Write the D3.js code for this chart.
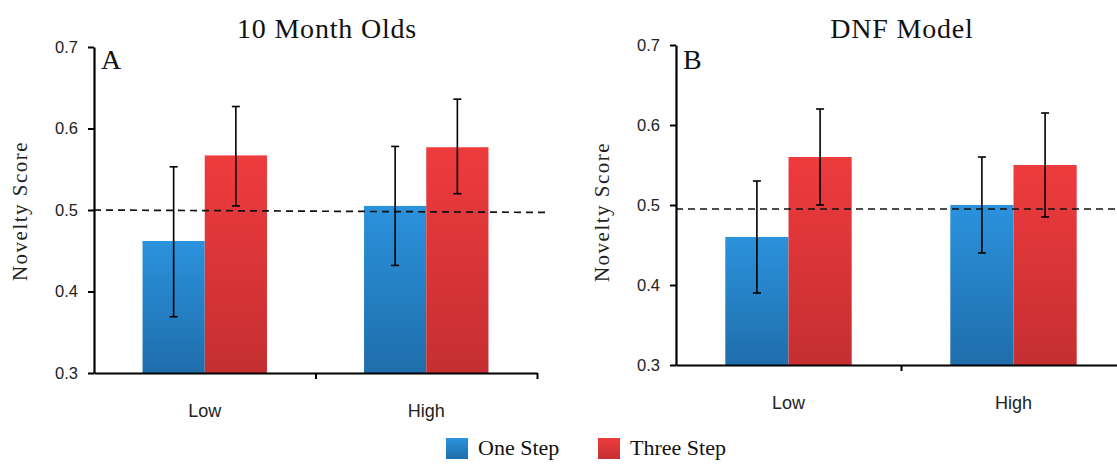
<!DOCTYPE html>
<html>
<head>
<meta charset="utf-8">
<script src="https://cdn.jsdelivr.net/npm/d3@7"></script>
<style>
  body { margin: 0; background: #fff; }
  svg { display: block; }
</style>
</head>
<body>
<div id="chart"></div>
<script>
// data
var categories = ["Low", "High"];
var seriesNames = ["One Step", "Three Step"];
var yTicks = [0.3, 0.4, 0.5, 0.6, 0.7];

var infantMeans = [[0.462, 0.567], [0.505, 0.577]];   // [category][series]
var infantLow   = [[0.369, 0.505], [0.432, 0.520]];
var infantHigh  = [[0.553, 0.627], [0.578, 0.636]];
var infantChance = [0.5, 0.497];

var modelMeans = [[0.46, 0.56], [0.50, 0.55]];
var modelLow   = [[0.39, 0.50], [0.44, 0.485]];
var modelHigh  = [[0.53, 0.62], [0.56, 0.615]];
var modelChance = [0.495, 0.495];

var width = 1117, height = 464;
var serif = "'Liberation Serif', 'Times New Roman', serif";
var sans = "'Liberation Sans', Arial, sans-serif";

var svg = d3.select("#chart").append("svg")
  .attr("width", width)
  .attr("height", height);

var defs = svg.append("defs");
var gradColors = [["#2b92dc", "#1f6eab"], ["#ee3b3e", "#c52f31"]];
gradColors.forEach(function(c, i) {
  var grad = defs.append("linearGradient")
    .attr("id", "grad" + i)
    .attr("x1", 0).attr("y1", 0).attr("x2", 0).attr("y2", 1);
  grad.append("stop").attr("offset", 0).attr("stop-color", c[0]);
  grad.append("stop").attr("offset", 1).attr("stop-color", c[1]);
});

var panels = [
  { title: "10 Month Olds", letter: "A", means: infantMeans, lo: infantLow, hi: infantHigh,
    chance: infantChance, x0: 94, x1: 537, yTop: 47, yBottom: 373, titleX: 327, labelX: 20, labelY: 211, dashEnd: 548 },
  { title: "DNF Model", letter: "B", means: modelMeans, lo: modelLow, hi: modelHigh,
    chance: modelChance, x0: 676, x1: 1126, yTop: 45, yBottom: 365, titleX: 902, labelX: 602, labelY: 212, dashEnd: 1117 }
];

panels.forEach(function(p) {
  var g = svg.append("g");

  var x = d3.scaleBand().domain(categories).range([p.x0, p.x1]).paddingInner(0).paddingOuter(0);
  var inner = d3.scaleBand().domain(seriesNames).range([0, x.bandwidth()]).paddingOuter(0.78).paddingInner(0);
  var y = d3.scaleLinear().domain([0.3, 0.7]).range([p.yBottom, p.yTop]);

  // bars
  categories.forEach(function(cat, ci) {
    var bg = g.append("g").attr("transform", "translate(" + x(cat) + ",0)");
    bg.selectAll("rect.bar")
      .data(seriesNames)
      .enter()
      .append("rect")
      .attr("class", "bar")
      .attr("x", function(d) { return inner(d); })
      .attr("width", inner.bandwidth())
      .attr("y", function(d, si) { return y(p.means[ci][si]); })
      .attr("height", function(d, si) { return y(0.3) - y(p.means[ci][si]); })
      .attr("fill", function(d, si) { return "url(#grad" + si + ")"; });
  });

  // dashed chance line
  g.append("line")
    .attr("x1", p.x0).attr("x2", p.dashEnd)
    .attr("y1", y(p.chance[0])).attr("y2", y(p.chance[1]))
    .attr("stroke", "#111")
    .attr("stroke-width", 1.7)
    .attr("stroke-dasharray", "7,5");

  // error bars
  categories.forEach(function(cat, ci) {
    seriesNames.forEach(function(s, si) {
      var cx = x(cat) + inner(s) + inner.bandwidth() / 2;
      var eg = g.append("g").attr("stroke", "#000").attr("stroke-width", 1.6);
      eg.append("line").attr("x1", cx).attr("x2", cx)
        .attr("y1", y(p.hi[ci][si])).attr("y2", y(p.lo[ci][si]));
      eg.append("line").attr("x1", cx - 4).attr("x2", cx + 4)
        .attr("y1", y(p.hi[ci][si])).attr("y2", y(p.hi[ci][si]));
      eg.append("line").attr("x1", cx - 4).attr("x2", cx + 4)
        .attr("y1", y(p.lo[ci][si])).attr("y2", y(p.lo[ci][si]));
    });
  });

  // Y axis
  var yAxis = g.append("g")
    .attr("transform", "translate(" + p.x0 + ",0)")
    .call(d3.axisLeft(y).tickValues(yTicks).tickSize(6).tickSizeOuter(0).tickPadding(10).tickFormat(d3.format(".1f")));
  yAxis.select(".domain").attr("stroke-width", 2.2);
  yAxis.selectAll(".tick line").attr("stroke-width", 2);
  yAxis.selectAll(".tick text")
    .attr("font-family", sans)
    .attr("font-size", 16.5)
    .attr("fill", "#222");

  // X axis line with boundary ticks
  var xb = d3.scaleLinear().domain([0, 2]).range([p.x0, p.x1]);
  var xAxis = g.append("g")
    .attr("transform", "translate(0," + p.yBottom + ")")
    .call(d3.axisBottom(xb).tickValues([1, 2]).tickSize(6).tickSizeOuter(0).tickFormat(""));
  xAxis.select(".domain").attr("stroke-width", 2.2);
  xAxis.selectAll(".tick line").attr("stroke-width", 2);

  // category labels
  var xLab = g.append("g")
    .attr("transform", "translate(0," + p.yBottom + ")")
    .call(d3.axisBottom(x).tickSize(0).tickPadding(31));
  xLab.select(".domain").remove();
  xLab.selectAll(".tick text")
    .attr("font-family", sans)
    .attr("font-size", 18)
    .attr("fill", "#222");

  // y label
  g.append("text")
    .attr("transform", "translate(" + p.labelX + "," + p.labelY + ") rotate(-90)")
    .attr("text-anchor", "middle")
    .attr("dy", "0.35em")
    .attr("font-family", serif)
    .attr("font-size", 21)
    .attr("letter-spacing", 1.5)
    .attr("fill", "#222")
    .text("Novelty Score");

  // title
  g.append("text")
    .attr("x", p.titleX)
    .attr("y", 38)
    .attr("text-anchor", "middle")
    .attr("font-family", serif)
    .attr("font-size", 28)
    .attr("letter-spacing", 0.8)
    .attr("fill", "#111")
    .text(p.title);

  // panel letter
  g.append("text")
    .attr("x", p.x0 + 7)
    .attr("y", 69)
    .attr("font-family", serif)
    .attr("font-size", 28)
    .attr("fill", "#111")
    .text(p.letter);
});

// legend
var legendX = [446, 598];
var legend = svg.selectAll("g.legend")
  .data(seriesNames)
  .enter()
  .append("g")
  .attr("class", "legend")
  .attr("transform", function(d, i) { return "translate(" + legendX[i] + ",438)"; });

legend.append("rect")
  .attr("width", 22).attr("height", 21)
  .attr("fill", function(d, i) { return "url(#grad" + i + ")"; });

legend.append("text")
  .attr("x", 32)
  .attr("y", 17)
  .attr("font-family", serif)
  .attr("font-size", 22)
  .attr("fill", "#111")
  .text(function(d) { return d; });
</script>
</body>
</html>
